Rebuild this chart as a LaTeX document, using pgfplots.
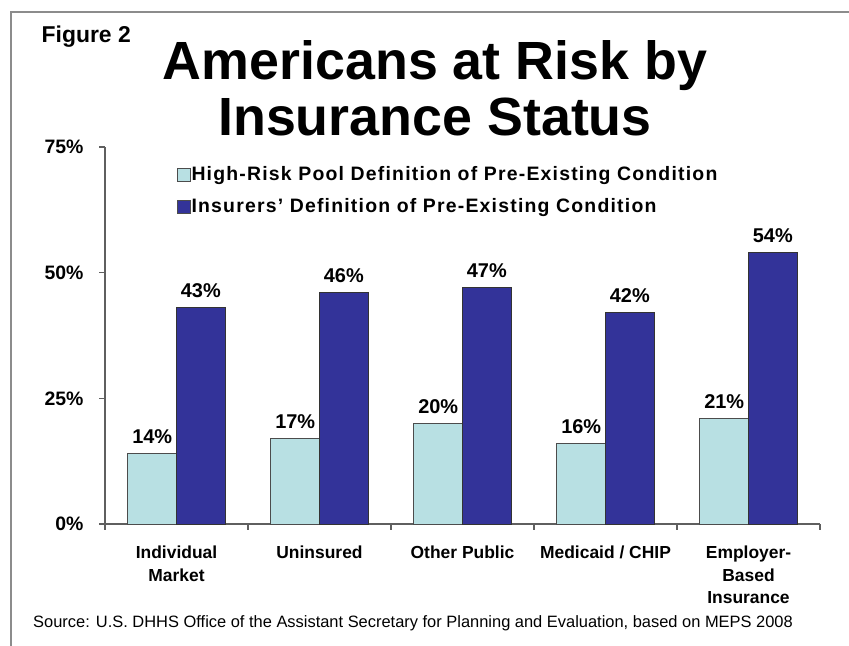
\documentclass[border=0pt]{standalone}
\usepackage{fontspec}
\setmainfont{Liberation Sans}
\usepackage{pgfplots}
\pgfplotsset{compat=1.18}
\definecolor{lightbar}{RGB}{184,224,227}
\definecolor{darkbar}{RGB}{51,51,153}
\definecolor{axisgray}{RGB}{95,95,95}
\begin{document}
\begin{tikzpicture}[x=1bp,y=1bp]
\path[use as bounding box] (0,0) rectangle (849,646);
\draw[black!45, line width=2bp] (11,0) -- (11,633.5) -- (849,633.5);
\node[anchor=base west, font=\fontsize{23}{26}\selectfont\bfseries, inner sep=0] at (41.5,603) {Figure 2};
\node[anchor=base, font=\fontsize{54}{56}\selectfont\bfseries, inner sep=0] at (435,566) {Americans at Risk by};
\node[anchor=base, font=\fontsize{54}{56}\selectfont\bfseries, inner sep=0] at (435,510) {Insurance Status};
\begin{axis}[
  at={(105bp,122bp)}, anchor=south west,
  width=715bp, height=377bp, scale only axis,
  clip=false,
  axis lines=left,
  axis line style={-, draw=axisgray, line width=1.3bp},
  xmin=-0.5, xmax=4.5, ymin=0, ymax=75,
  enlargelimits=false,
  ybar=0pt, bar width=0.34,
  tick align=outside,
  major tick length=6bp, minor tick length=6bp,
  every tick/.style={draw=axisgray, line width=1.3bp},
  every major x tick/.style={draw=none},
  xtick={0,1,2,3,4},
  minor xtick={-0.5,0.5,1.5,2.5,3.5,4.5},
  xticklabels={{Individual\\Market},{Uninsured},{Other Public},{Medicaid / CHIP},{Employer-\\Based\\Insurance}},
  xticklabel style={font=\fontsize{17.5}{23}\selectfont\bfseries, align=center, yshift=-12bp},
  ytick={0,25,50,75},
  yticklabel={\pgfmathprintnumber{\tick}\%},
  yticklabel style={font=\fontsize{19.5}{22}\selectfont\bfseries, xshift=-12bp},
  /pgf/number format/assume math mode=true,
  nodes near coords={\pgfmathprintnumber{\pgfplotspointmeta}\%},
  every node near coord/.append style={font=\fontsize{20}{22}\selectfont\bfseries, yshift=6bp, black},
  legend style={at={(0.1003,0.95)}, anchor=north west, draw=none, fill=none,
    inner sep=0pt, outer sep=0pt, row sep=14.5bp,
    font=\fontsize{19.5}{22}\selectfont\bfseries\addfontfeature{LetterSpace=6.2},
    nodes={inner sep=1bp}},
  legend cell align=left,
  legend image code/.code={\draw[#1, draw=black!70, line width=0.8bp] (0bp,-6.5bp) rectangle (13bp,6.5bp);},
]
\addplot[fill=lightbar, draw=black!70, line width=0.9bp] coordinates {(0,14) (1,17) (2,20) (3,16) (4,21)};
\addlegendentry{High-Risk Pool Definition of Pre-Existing Condition}
\addplot[fill=darkbar, draw=black!80, line width=0.9bp] coordinates {(0,43) (1,46) (2,47) (3,42) (4,54)};
\addlegendentry{Insurers' Definition of Pre-Existing Condition}
\end{axis}
\node[anchor=base west, font=\fontsize{16.5}{18}\selectfont, inner sep=0] at (33,18) {Source: U.S. DHHS Office of the Assistant Secretary for Planning and Evaluation, based on MEPS 2008};
\end{tikzpicture}
\end{document}
